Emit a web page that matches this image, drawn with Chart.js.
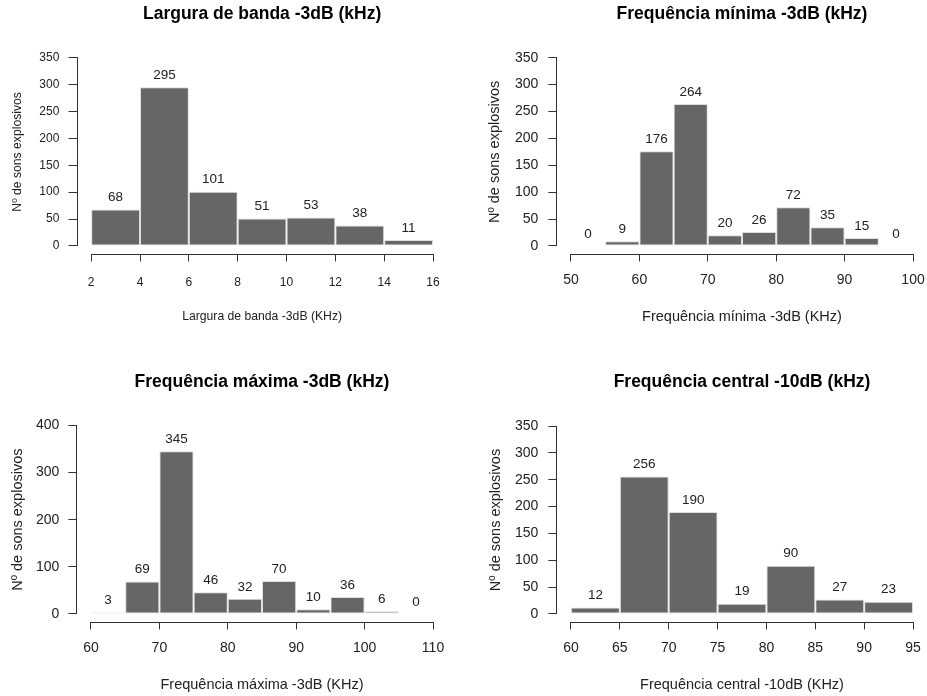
<!DOCTYPE html>
<html>
<head>
<meta charset="utf-8">
<script src="https://cdn.jsdelivr.net/npm/chart.js@4.4.1/dist/chart.umd.min.js"></script>
<style>
  html, body { margin: 0; padding: 0; background: #fff; overflow: hidden; }
  canvas { position: absolute; }
</style>
</head>
<body>
<canvas id="c1" width="463" height="348" style="left:0;top:0"></canvas>
<canvas id="c2" width="464" height="348" style="left:463px;top:0"></canvas>
<canvas id="c3" width="463" height="348" style="left:0;top:348px"></canvas>
<canvas id="c4" width="464" height="348" style="left:463px;top:348px"></canvas>
<script>
// bin centres and counts
const larguraBins = [3, 5, 7, 9, 11, 13, 15];
const larguraCounts = [68, 295, 101, 51, 53, 38, 11];
const larguraXTicks = [2, 4, 6, 8, 10, 12, 14, 16];
const larguraYTicks = [0, 50, 100, 150, 200, 250, 300, 350];

const minimaBins = [52.5, 57.5, 62.5, 67.5, 72.5, 77.5, 82.5, 87.5, 92.5, 97.5];
const minimaCounts = [0, 9, 176, 264, 20, 26, 72, 35, 15, 0];
const minimaXTicks = [50, 60, 70, 80, 90, 100];
const minimaYTicks = [0, 50, 100, 150, 200, 250, 300, 350];

const maximaBins = [62.5, 67.5, 72.5, 77.5, 82.5, 87.5, 92.5, 97.5, 102.5, 107.5];
const maximaCounts = [3, 69, 345, 46, 32, 70, 10, 36, 6, 0];
const maximaXTicks = [60, 70, 80, 90, 100, 110];
const maximaYTicks = [0, 100, 200, 300, 400];

const centralBins = [62.5, 67.5, 72.5, 77.5, 82.5, 87.5, 92.5];
const centralCounts = [12, 256, 190, 19, 90, 27, 23];
const centralXTicks = [60, 65, 70, 75, 80, 85, 90, 95];
const centralYTicks = [0, 50, 100, 150, 200, 250, 300, 350];

const family = "'Liberation Sans', Arial, sans-serif";

// R style axes: line only from first to last tick
const rAxes = {
  id: 'rAxes',
  afterDraw(chart) {
    const { ctx, chartArea, scales: { x, y } } = chart;
    const al = v => Math.round(v - 0.5) + 0.5;
    ctx.save();
    ctx.strokeStyle = '#333';
    ctx.lineWidth = 1;
    ctx.beginPath();
    const by = Math.round(chartArea.bottom) + 0.5;
    ctx.moveTo(al(x.getPixelForValue(x.ticks[0].value)), by);
    ctx.lineTo(al(x.getPixelForValue(x.ticks[x.ticks.length - 1].value)) + 0.5, by);
    const lx = Math.round(chartArea.left) - 0.5;
    ctx.moveTo(lx, al(y.getPixelForValue(y.ticks[0].value)));
    ctx.lineTo(lx, al(y.getPixelForValue(y.ticks[y.ticks.length - 1].value)) - 0.5);
    ctx.stroke();
    ctx.restore();
  }
};

// counts above each bar
const countLabels = {
  id: 'countLabels',
  afterDatasetsDraw(chart) {
    const { ctx } = chart;
    const meta = chart.getDatasetMeta(0);
    const pts = chart.data.datasets[0].data;
    ctx.save();
    ctx.font = '13.5px ' + family;
    ctx.fillStyle = '#222';
    ctx.textAlign = 'center';
    ctx.textBaseline = 'middle';
    meta.data.forEach((bar, i) => {
      ctx.fillText(String(pts[i].y), bar.x, bar.y - 12);
    });
    ctx.restore();
  }
};

function histogram(id, p) {
  new Chart(document.getElementById(id), {
    type: 'bar',
    data: {
      datasets: [{
        data: p.bins.map((b, i) => ({ x: b, y: p.counts[i] })),
        backgroundColor: '#666666',
        borderColor: c => (c.raw && c.raw.y > 0 ? '#dedede' : 'rgba(0,0,0,0)'),
        borderWidth: c => (c.raw && c.raw.y > 0 ? 1 : 0),
        borderSkipped: false,
        inflateAmount: 0,
        categoryPercentage: 1,
        barPercentage: 1
      }]
    },
    options: {
      responsive: false,
      animation: false,
      layout: { padding: { top: 0, left: 0, bottom: 0, right: p.padRight } },
      plugins: {
        legend: { display: false },
        tooltip: { enabled: false },
        title: {
          display: true,
          text: p.title,
          fullSize: false,
          color: '#000',
          font: { family, size: 17.5, weight: 'bold' },
          padding: { top: p.titleTop, bottom: p.titleBottom }
        }
      },
      scales: {
        x: {
          type: 'linear',
          min: p.xMin,
          max: p.xMax,
          offset: false,
          afterBuildTicks: s => { s.ticks = p.xTicks.map(v => ({ value: v })); },
          afterFit: s => { s.height = p.xHeight; s.paddingLeft = 0; s.paddingRight = 0; },
          grid: { offset: false, drawOnChartArea: false, drawTicks: true, tickLength: 8, tickColor: '#333', color: '#333' },
          border: { display: false },
          ticks: { autoSkip: false, maxRotation: 0, padding: p.xTickPad, color: '#222', font: { family, size: p.tickSize } },
          title: { display: true, text: p.xLabel, color: '#222', font: { family, size: p.labSize }, padding: { top: 0, bottom: p.xTitlePad } }
        },
        y: {
          min: p.yMin,
          max: p.yMax,
          afterBuildTicks: s => { s.ticks = p.yTicks.map(v => ({ value: v })); },
          afterFit: s => { s.width = p.yWidth; s.paddingTop = 0; s.paddingBottom = 0; },
          grid: { drawOnChartArea: false, drawTicks: true, tickLength: 9, tickColor: '#333', color: '#333' },
          border: { display: false },
          ticks: { autoSkip: false, padding: p.yTickPad, color: '#222', font: { family, size: p.tickSize } },
          title: { display: true, text: 'Nº de sons explosivos', color: '#222', font: { family, size: p.labSize }, padding: { top: p.yTitlePad, bottom: 0 } }
        }
      }
    },
    plugins: [rAxes, countLabels]
  });
}

histogram('c1', {
  title: 'Largura de banda -3dB (kHz)', xLabel: 'Largura de banda -3dB (KHz)',
  bins: larguraBins, counts: larguraCounts, xTicks: larguraXTicks, yTicks: larguraYTicks,
  xMin: 1.44, xMax: 16.56, yMin: -14, yMax: 364,
  padRight: 16.3, titleTop: 4, titleBottom: 25.2, xHeight: 94.5, xTickPad: 13.5, xTitlePad: 24,
  yWidth: 77.5, yTickPad: 9.2, yTitlePad: 10.7, tickSize: 12, labSize: 12.2
});

histogram('c2', {
  title: 'Frequência mínima -3dB (kHz)', xLabel: 'Frequência mínima -3dB (KHz)',
  bins: minimaBins, counts: minimaCounts, xTicks: minimaXTicks, yTicks: minimaYTicks,
  xMin: 48, xMax: 102, yMin: -14, yMax: 364,
  padRight: 0.3, titleTop: 4, titleBottom: 25.2, xHeight: 94.5, xTickPad: 10.1, xTitlePad: 22.6,
  yWidth: 94.3, yTickPad: 10, yTitlePad: 23.3, tickSize: 14, labSize: 14.5
});

histogram('c3', {
  title: 'Frequência máxima -3dB (kHz)', xLabel: 'Frequência máxima -3dB (KHz)',
  bins: maximaBins, counts: maximaCounts, xTicks: maximaXTicks, yTicks: maximaYTicks,
  xMin: 58, xMax: 112, yMin: -16, yMax: 416,
  padRight: 16.3, titleTop: 24, titleBottom: 24.8, xHeight: 74.5, xTickPad: 10.1, xTitlePad: 2.3,
  yWidth: 77.3, yTickPad: 9, yTitlePad: 8.8, tickSize: 14, labSize: 14.5
});

histogram('c4', {
  title: 'Frequência central -10dB (kHz)', xLabel: 'Frequência central -10dB (KHz)',
  bins: centralBins, counts: centralCounts, xTicks: centralXTicks, yTicks: centralYTicks,
  xMin: 58.6, xMax: 96.4, yMin: -14, yMax: 364,
  padRight: 0.3, titleTop: 24, titleBottom: 25.5, xHeight: 74.5, xTickPad: 10.1, xTitlePad: 2.3,
  yWidth: 94.3, yTickPad: 10, yTitlePad: 23.8, tickSize: 14, labSize: 14.5
});
</script>
</body>
</html>
